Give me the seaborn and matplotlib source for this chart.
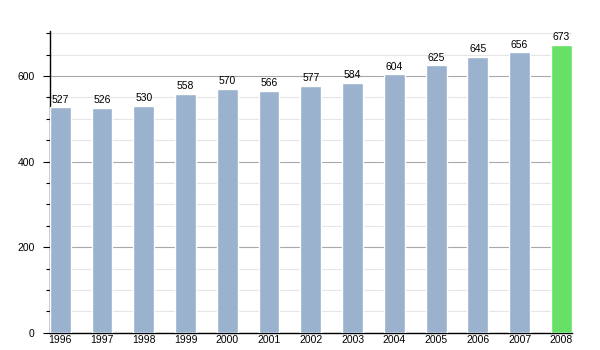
import matplotlib
matplotlib.use("Agg")
import matplotlib.pyplot as plt
from matplotlib.ticker import MultipleLocator
import seaborn as sns
import pandas as pd

years = ["1996", "1997", "1998", "1999", "2000", "2001", "2002",
         "2003", "2004", "2005", "2006", "2007", "2008"]
population = [527, 526, 530, 558, 570, 566, 577, 584, 604, 625, 645, 656, 673]
highlight = ["past"] * 12 + ["latest"]

df = pd.DataFrame({"year": years, "population": population, "kind": highlight})

sns.set_theme(style="white")
plt.rcParams["font.family"] = ["Liberation Sans", "DejaVu Sans"]

fig = plt.figure(figsize=(6, 3.5), dpi=100)
ax = fig.add_axes([0.083, 0.049, 0.87, 0.862])

palette = {"past": "#9ab2cd", "latest": "#66e066"}
sns.barplot(data=df, x="year", y="population", hue="kind", palette=palette,
            dodge=False, width=0.5, legend=False, ax=ax, saturation=1,
            zorder=3)

ax.set_xlim(-0.25, 12.25)
ax.set_ylim(0, 705)
ax.yaxis.set_major_locator(MultipleLocator(200))
ax.yaxis.set_minor_locator(MultipleLocator(50))
ax.grid(axis="y", which="major", color="#a8a8a8", linewidth=0.8, zorder=0)
ax.grid(axis="y", which="minor", color="#e6e6e6", linewidth=0.8, zorder=0)
ax.set_axisbelow(True)

for side in ("top", "right"):
    ax.spines[side].set_visible(False)
for side in ("left", "bottom"):
    ax.spines[side].set_color("black")
    ax.spines[side].set_linewidth(1.0)

ax.tick_params(axis="y", which="major", left=True, length=5, width=0.8,
               color="black", labelsize=7.5, pad=6, labelcolor="black")
ax.tick_params(axis="y", which="minor", left=True, length=3, width=0.8,
               color="black")
ax.tick_params(axis="x", bottom=False, length=0, labelsize=7.5, pad=1.5,
               labelcolor="black")
ax.set_xlabel("")
ax.set_ylabel("")

for i, v in enumerate(population):
    ax.text(i, v + 6, str(v), ha="center", va="bottom", fontsize=7.5,
            color="black")

fig.savefig("out.png", dpi=100)
